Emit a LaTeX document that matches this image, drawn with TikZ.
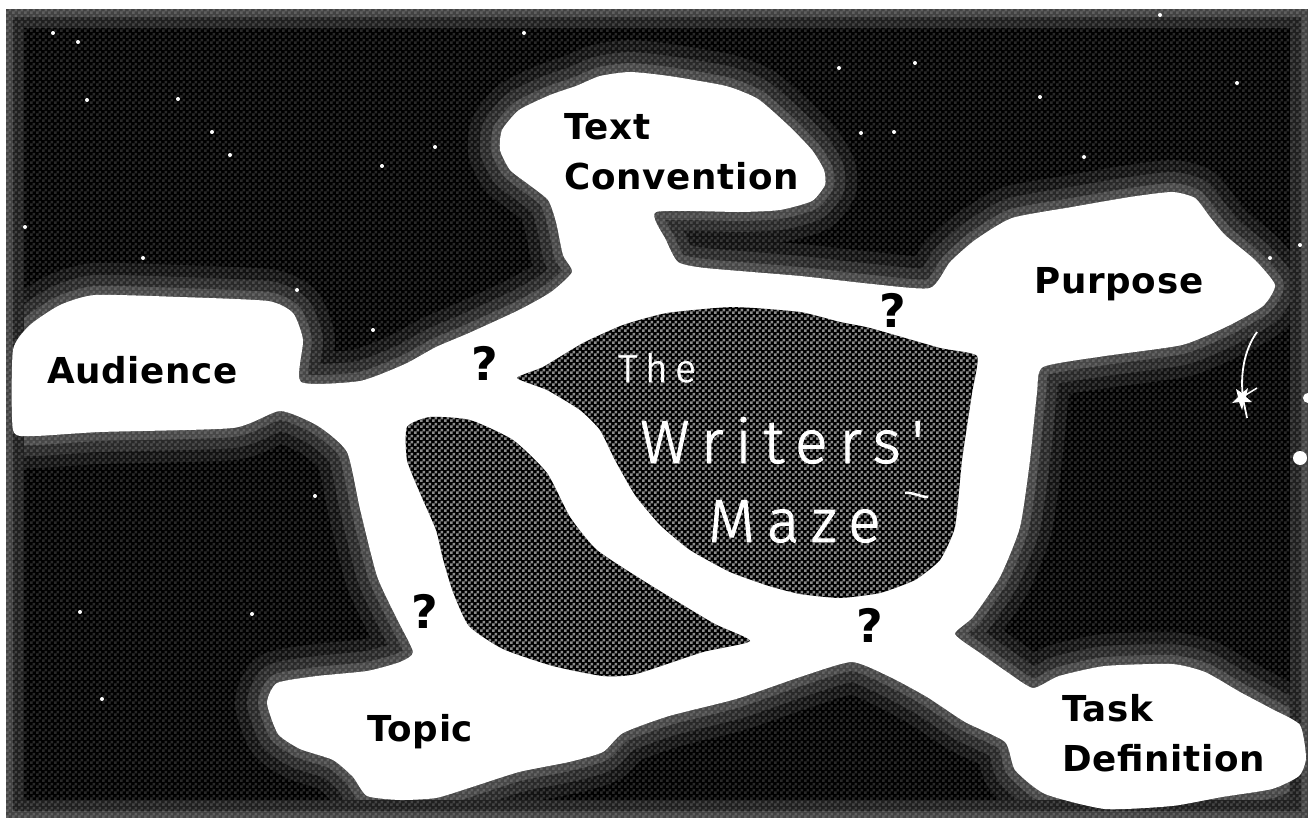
\documentclass[tikz,border=0pt]{standalone}
\usepackage{fontspec}
\usetikzlibrary{patterns}
\newfontfamily\labelfont{DejaVu Sans}[LetterSpace=2]
\newfontfamily\mazefont{Fira Sans Light}[LetterSpace=19, FakeBold=1.5]

% coarse dither used for the dark ground
\pgfdeclarepatternformonly{dither}{\pgfpointorigin}{\pgfqpoint{6pt}{6pt}}{\pgfqpoint{6pt}{6pt}}{%
  \pgfpathrectangle{\pgfpointorigin}{\pgfqpoint{3pt}{3pt}}%
  \pgfpathrectangle{\pgfqpoint{3pt}{3pt}}{\pgfqpoint{3pt}{3pt}}%
  \pgfusepath{fill}}

\tikzset{
  ground/.style={fill=black},
  haze/.style={line join=round},
  island/.style={fill=black},
  isledither/.style={pattern=dither, pattern color=white, fill opacity=0.55},
  grounddither/.style={pattern=dither, pattern color=white, fill opacity=0.16},
  lbl/.style={font=\labelfont\bfseries\fontsize{35.7}{40}\selectfont, anchor=base west, inner sep=0pt},
  qm/.style={font=\labelfont\bfseries\fontsize{46}{46}\selectfont, anchor=base, inner sep=0pt},
  mazebig/.style={text=white, font=\mazefont\fontsize{61}{61}\selectfont, anchor=base west, inner sep=0pt},
  mazesmall/.style={text=white, font=\mazefont\fontsize{39}{39}\selectfont, anchor=base west, inner sep=0pt},
  speck/.style={fill=white},
}

\begin{document}
\begin{tikzpicture}[x=1pt,y=-1pt]
\useasboundingbox (0,0) rectangle (1308,818);
\fill[white] (0,0) rectangle (1308,818);

% dark ground inside the frame
\fill[ground] (6,10) rectangle (1308,818);

% outline of the white paths and clearings
\path[save path=\network] plot[smooth cycle, tension=0.35] coordinates {
  (13,350) (30,325) (60,305) (95,295) (180,297) (268,301) (293,313) (303,340) (301,382)
  (360,381) (405,364) (436,347) (469,333) (519,310) (551,292) (572,272) (563,255)
  (556,222) (548,200) (528,184) (510,170) (500,150) (502,130) (519,110) (550,95)
  (576,86) (600,76) (630,72) (669,76) (726,86) (758,99) (789,126) (812,150) (824,170)
  (825,185) (812,201) (780,210) (740,212) (656,212) (666,240) (678,262) (705,268)
  (800,276) (872,284) (930,288) (950,262) (975,240) (1012,218) (1072,207) (1130,197)
  (1172,192) (1195,198) (1210,217) (1225,235) (1255,260) (1275,285) (1263,306)
  (1228,326) (1182,345) (1105,356) (1043,367) (1037,393) (1030,460) (1020,527)
  (1000,577) (973,617) (955,634) (980,653) (1007,672) (1033,688) (1059,676) (1105,666)
  (1172,664) (1205,672) (1240,692) (1272,709) (1300,725) (1306,758) (1299,776)
  (1272,789) (1222,797) (1172,806) (1105,809) (1045,794) (1015,770) (1005,742)
  (965,722) (927,697) (890,677) (852,662) (803,676) (736,699) (669,716) (623,733)
  (603,752) (569,762) (519,772) (469,788) (436,798) (400,800) (367,796) (353,777)
  (333,760) (300,749) (278,734) (267,703) (277,683) (317,676) (367,671) (400,662)
  (413,652) (397,619) (377,576) (360,509) (347,452) (318,426) (280,411) (233,428)
  (100,432) (33,436) (13,430)};

% lighter haze of the ground along the clearings and the frame
\begin{scope}
  \clip (6,10) rectangle (1308,818);
  \draw[haze, line width=64, draw=black!93, use path=\network];
  \draw[haze, line width=40, draw=black!84, use path=\network];
  \draw[haze, line width=18, draw=black!72, use path=\network];
  \draw[line width=36, draw=black!88] (6,10) rectangle (1308,818);
  \draw[line width=14, draw=black!74] (6,10) rectangle (1308,818);
  \fill[grounddither] (6,10) rectangle (1308,818);
\end{scope}

% the clearings
\fill[white, use path=\network];

% island left of the diagonal path
\path[save path=\isleA] plot[smooth cycle, tension=0.35] coordinates {
  (407,427) (430,417) (470,420) (513,440) (547,473) (570,517) (597,550) (647,583)
  (713,623) (750,641) (703,652) (636,674) (603,676) (553,666) (503,649) (469,626)
  (453,592) (443,559) (436,530) (420,493) (407,460)};
\fill[island, use path=\isleA];
\fill[isledither, use path=\isleA];

% central island
\path[save path=\isleB] plot[smooth cycle, tension=0.3] coordinates {
  (517,378) (543,367) (583,343) (623,325) (667,313) (733,307) (800,312) (840,322)
  (870,328) (940,348) (977,356) (972,393) (962,460) (955,527) (940,560) (915,580)
  (880,593) (840,598) (800,594) (769,586) (730,572) (690,550) (660,525) (635,495)
  (615,460) (600,430) (580,410) (547,390)};
\fill[island, use path=\isleB];
\fill[isledither, use path=\isleB];

% labels of the clearings
\node[lbl] (text) at (564,140) {Text};
\node[lbl] (convention) at (564,190) {Convention};
\node[lbl] (audience) at (47,383) {Audience};
\node[lbl] (purpose) at (1034,293) {Purpose};
\node[lbl] (topic) at (367,741) {Topic};
\node[lbl] (task) at (1062,721) {Task};
\node[lbl] (definition) at (1062,771) {Definition};

% question marks at the forks
\node[qm] (q1) at (485,380) {?};
\node[qm] (q2) at (893,327) {?};
\node[qm] (q3) at (425,628) {?};
\node[qm] (q4) at (870,642) {?};

% title on the central island
\node[mazesmall] (the) at (618,382) {The};
\node[mazebig] (writers) at (640,463) {Writers'};
\node[mazebig] (maze) at (708,542) {Maze};
\draw[white, line width=2.5] (905,493) .. controls (913,492) and (920,497) .. (928,497);

% streak and star on the right
\draw[white, line width=1.8] (1257,332) .. controls (1244,350) and (1240,375) .. (1243,398)
  .. controls (1244,405) and (1246,412) .. (1247,418);
\draw[white, line width=1.5] (1244,396) -- (1257,388);
\fill[white] (1236,389) -- (1242,393) -- (1248,388) -- (1246,397) -- (1252,402) -- (1244,402)
  -- (1242,410) -- (1239,402) -- (1232,403) -- (1238,397) -- cycle;
\fill[speck] (1300,458) circle (7);
\fill[speck] (1308,398) circle (5);

% specks on the dark ground
\foreach \p in {(53,33),(78,42),(87,100),(178,99),(212,132),(230,155),(382,166),(435,147),
  (25,227),(143,258),(297,290),(373,330),(1160,15),(915,63),(1040,97),(894,132),(1084,157),
  (1237,83),(1270,258),(1300,245),(524,33),(839,68),(861,133),(80,612),(252,614),(102,699),
  (315,496)}
  \fill[speck] \p circle (2);
\end{tikzpicture}
\end{document}
